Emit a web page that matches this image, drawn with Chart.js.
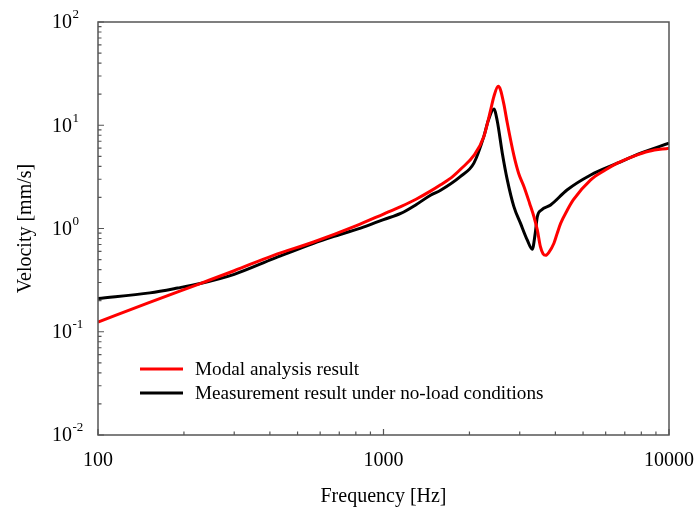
<!DOCTYPE html>
<html>
<head>
<meta charset="utf-8">
<script src="https://cdn.jsdelivr.net/npm/chart.js@4/dist/chart.umd.min.js"></script>
<style>
  body { margin: 0; background: #fff; }
  #chart { display: block; }
</style>
</head>
<body>
<canvas id="chart" width="698" height="511"></canvas>
<script>
// Datos (frecuencia en Hz, velocidad en mm/s)
const modalFreq = [100, 150, 228, 300, 412, 569, 800, 1000, 1149, 1300, 1460, 1585, 1750, 1862, 2073, 2247, 2372, 2436, 2523, 2570, 2640, 2714, 2862, 2973, 3103, 3250, 3365, 3457, 3543, 3620, 3698, 3800, 3953, 4060, 4173, 4400, 4620, 5318, 6000, 6592, 7500, 8500, 10000];
const modalVel  = [0.124, 0.19, 0.293, 0.39, 0.55, 0.74, 1.06, 1.38, 1.63, 1.92, 2.3, 2.65, 3.2, 3.75, 5.1, 7.8, 14, 19, 23.8, 22, 16, 10.5, 5.1, 3.43, 2.55, 1.75, 1.3, 0.97, 0.67, 0.57, 0.55, 0.59, 0.72, 0.9, 1.12, 1.5, 1.89, 2.96, 3.7, 4.29, 5.0, 5.6, 6.0];

const measFreq = [100, 152, 190, 228, 300, 412, 569, 700, 850, 1000, 1149, 1300, 1461, 1585, 1862, 2073, 2247, 2325, 2436, 2503, 2606, 2714, 2862, 3020, 3190, 3320, 3400, 3457, 3575, 3848, 4392, 5318, 6592, 8000, 10000];
const measVel  = [0.21, 0.238, 0.265, 0.293, 0.36, 0.51, 0.72, 0.87, 1.03, 1.22, 1.40, 1.7, 2.1, 2.35, 3.2, 4.3, 7.8, 11, 14.4, 11, 5.4, 2.96, 1.63, 1.12, 0.77, 0.63, 0.9, 1.3, 1.51, 1.69, 2.36, 3.3, 4.29, 5.4, 6.7];

const xTickLabels = ['100', '1000', '10000'];
const yTickExponents = [-2, -1, 0, 1, 2];

const seriesNames = ['Modal analysis result', 'Measurement result under no-load conditions'];
const seriesColors = ['#ff0000', '#000000'];

const FONT = '"Liberation Serif", "Times New Roman", serif';

function toPoints(xs, ys) {
    return xs.map((x, i) => ({ x: x, y: ys[i] }));
}

// Ejes, marcas interiores, etiquetas y leyenda
const decoracion = {
    id: 'decoracion',
    afterDraw(chart) {
        const ctx = chart.ctx;
        const a = chart.chartArea;
        const sx = chart.scales.x;
        const sy = chart.scales.y;

        ctx.save();
        ctx.strokeStyle = '#555';
        ctx.lineWidth = 1.5;
        ctx.strokeRect(a.left, a.top, a.right - a.left, a.bottom - a.top);

        // marcas eje Y
        ctx.lineWidth = 1.2;
        ctx.beginPath();
        for (let e = -2; e <= 2; e++) {
            const py = sy.getPixelForValue(Math.pow(10, e));
            ctx.moveTo(a.left, py); ctx.lineTo(a.left + 6, py);
            if (e < 2) {
                for (let k = 2; k <= 9; k++) {
                    const pm = sy.getPixelForValue(k * Math.pow(10, e));
                    ctx.moveTo(a.left, pm); ctx.lineTo(a.left + 3.5, pm);
                }
            }
        }
        // marcas eje X
        for (let e = 2; e <= 4; e++) {
            const px = sx.getPixelForValue(Math.pow(10, e));
            ctx.moveTo(px, a.bottom); ctx.lineTo(px, a.bottom - 6);
            if (e < 4) {
                for (let k = 2; k <= 9; k++) {
                    const pm = sx.getPixelForValue(k * Math.pow(10, e));
                    ctx.moveTo(pm, a.bottom); ctx.lineTo(pm, a.bottom - 3.5);
                }
            }
        }
        ctx.stroke();

        ctx.fillStyle = '#000';
        // etiquetas Y (10 con exponente)
        yTickExponents.forEach(e => {
            const py = sy.getPixelForValue(Math.pow(10, e));
            ctx.font = '20px ' + FONT;
            ctx.textAlign = 'left';
            ctx.textBaseline = 'middle';
            ctx.fillText('10', 52, py + 1);
            const w = ctx.measureText('10').width;
            ctx.font = '13px ' + FONT;
            ctx.fillText(String(e), 52 + w + 0.5, py - 7);
        });

        // etiquetas X
        ctx.font = '20px ' + FONT;
        ctx.textAlign = 'center';
        ctx.textBaseline = 'middle';
        xTickLabels.forEach(t => {
            const px = sx.getPixelForValue(Number(t));
            ctx.fillText(t, px, 461);
        });

        // títulos
        ctx.fillText('Frequency [Hz]', (a.left + a.right) / 2, 497);
        ctx.save();
        ctx.translate(26, (a.top + a.bottom) / 2);
        ctx.rotate(-Math.PI / 2);
        ctx.fillText('Velocity [mm/s]', 0, 0);
        ctx.restore();

        // leyenda
        ctx.font = '19.2px ' + FONT;
        ctx.textAlign = 'left';
        const legY = [369, 393];
        seriesNames.forEach((name, i) => {
            ctx.strokeStyle = seriesColors[i];
            ctx.lineWidth = 3;
            ctx.beginPath();
            ctx.moveTo(140, legY[i]); ctx.lineTo(183, legY[i]);
            ctx.stroke();
            ctx.fillStyle = '#000';
            ctx.fillText(name, 195, legY[i] + 1);
        });
        ctx.restore();
    }
};

new Chart(document.getElementById('chart'), {
    type: 'line',
    data: {
        datasets: [
            {
                label: seriesNames[0],
                data: toPoints(modalFreq, modalVel),
                borderColor: seriesColors[0],
                borderWidth: 3,
                pointRadius: 0,
                cubicInterpolationMode: 'monotone'
            },
            {
                label: seriesNames[1],
                data: toPoints(measFreq, measVel),
                borderColor: seriesColors[1],
                borderWidth: 3,
                pointRadius: 0,
                cubicInterpolationMode: 'monotone'
            }
        ]
    },
    options: {
        responsive: false,
        animation: false,
        layout: { padding: { left: 98, right: 29, top: 22, bottom: 76 } },
        scales: {
            x: { type: 'logarithmic', min: 100, max: 10000, display: false },
            y: { type: 'logarithmic', min: 0.01, max: 100, display: false }
        },
        plugins: {
            legend: { display: false },
            tooltip: { enabled: false }
        }
    },
    plugins: [decoracion]
});
</script>
</body>
</html>
